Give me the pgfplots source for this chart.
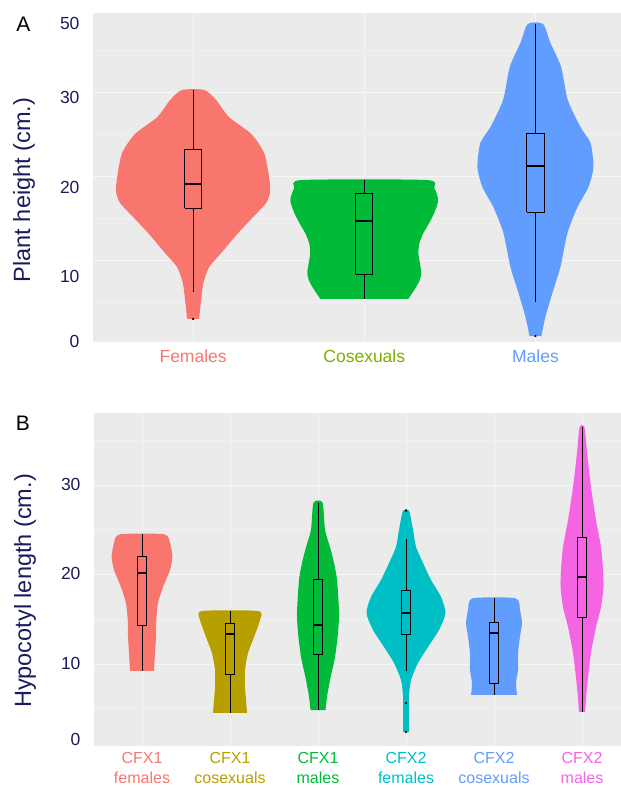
\documentclass[border=0pt]{standalone}
\usepackage{fontspec}
\setmainfont{Liberation Sans}
\usepackage{pgfplots}
\pgfplotsset{compat=1.18}
\definecolor{bg}{HTML}{EBEBEB}
\definecolor{gmaj}{HTML}{F7F7F7}
\definecolor{gmin}{HTML}{F1F1F1}
\definecolor{navy}{HTML}{1B1B5E}
\definecolor{cR}{HTML}{F8766D}
\definecolor{cO}{HTML}{B79F00}
\definecolor{cL}{HTML}{7CAE00}
\definecolor{cG}{HTML}{00BA38}
\definecolor{cC}{HTML}{00BFC4}
\definecolor{cB}{HTML}{619CFF}
\definecolor{cM}{HTML}{F564E3}
\pgfplotsset{
  vio/.style={scale only axis, anchor=south west,
    axis background/.style={fill=bg},
    axis line style={draw=none},
    major tick length=0pt, minor tick length=0pt,
    tick style={draw=none},
    ymajorgrids, yminorgrids, xmajorgrids,
    major grid style={gmaj, line width=0.9pt},
    minor grid style={gmin, line width=0.6pt},
    ytick={10,20,30}, minor ytick={5,15,25,35}, yticklabels={},
    extra y tick style={grid=none},
    /pgf/number format/assume math mode=true,
    yticklabel style={text=navy, font=\fontsize{17.5}{20}\selectfont, xshift=-10pt},
  },
  bline/.style={black, line width=0.75pt},
  bmed/.style={black, line width=1.9pt},
  vfill/.style={fill=#1, draw=none, smooth, tension=0.4},
}
\begin{document}
\begin{tikzpicture}
% ---------------- Panel A ----------------
\begin{axis}[vio, at={(93pt,-342pt)}, width=528pt, height=329pt,
  xmin=0.415, xmax=3.5, ymin=0.238, ymax=39.40,
  xtick={1,2,3},
  xticklabels={\textcolor{cR}{Females},\textcolor{cL}{Cosexuals},\textcolor{cB}{Males}},
  xticklabel style={font=\fontsize{17.5}{20}\selectfont, yshift=-4pt},
  extra y ticks={0.25,8.01,18.61,29.32,38.21},
  extra y tick labels={0,10,20,30,50},
]
\addplot[vfill=cR] table[x expr=1+\thisrow{w}, y=y] {
y w
2.98 0.035
5.24 0.047
7.26 0.060
9.17 0.094
10.83 0.164
13.21 0.263
15.12 0.351
16.79 0.427
18.10 0.450
19.88 0.444
22.74 0.415
25.00 0.340
27.00 0.210
29.05 0.134
30.24 0.065
30.24 -0.065
29.05 -0.134
27.00 -0.210
25.00 -0.340
22.74 -0.415
19.88 -0.444
18.10 -0.450
16.79 -0.427
15.12 -0.351
13.21 -0.263
10.83 -0.164
9.17 -0.094
7.26 -0.060
5.24 -0.047
2.98 -0.035
} -- cycle;
\addplot[vfill=cG] table[x expr=2+\thisrow{w}, y=y] {
y w
5.36 0.257
6.43 0.292
7.50 0.322
8.45 0.333
9.60 0.325
10.83 0.316
12.00 0.322
13.21 0.345
14.00 0.368
15.60 0.409
17.14 0.432
18.57 0.409
19.52 0.363
19.52 -0.363
18.57 -0.409
17.14 -0.432
15.60 -0.409
14.00 -0.368
13.21 -0.345
12.00 -0.322
10.83 -0.316
9.60 -0.325
8.45 -0.333
7.50 -0.322
6.43 -0.292
5.36 -0.257
} -- cycle;
\addplot[vfill=cB] table[x expr=3+\thisrow{w}, y=y] {
y w
0.95 0.035
3.21 0.058
6.07 0.099
9.17 0.146
13.21 0.187
16.31 0.246
18.69 0.310
21.07 0.339
23.93 0.322
25.83 0.263
29.05 0.189
32.98 0.150
35.83 0.088
38.10 0.044
38.10 -0.044
35.83 -0.088
32.98 -0.150
29.05 -0.189
25.83 -0.263
23.93 -0.322
21.07 -0.339
18.69 -0.310
16.31 -0.246
13.21 -0.187
9.17 -0.146
6.07 -0.099
3.21 -0.058
0.95 -0.035
} -- cycle;
% boxes: Females
\addplot[bline] coordinates {(0.95,16.19) (1.05,16.19) (1.05,23.21) (0.95,23.21) (0.95,16.19)};
\addplot[bline] coordinates {(1,23.21) (1,30.24)};
\addplot[bline] coordinates {(1,16.19) (1,6.19)};
\addplot[bmed] coordinates {(0.95,19.05) (1.05,19.05)};
% Cosexuals
\addplot[bline] coordinates {(1.95,8.33) (2.05,8.33) (2.05,17.98) (1.95,17.98) (1.95,8.33)};
\addplot[bline] coordinates {(2,17.98) (2,19.52)};
\addplot[bline] coordinates {(2,8.33) (2,5.36)};
\addplot[bmed] coordinates {(1.95,14.64) (2.05,14.64)};
% Males
\addplot[bline] coordinates {(2.95,15.71) (3.05,15.71) (3.05,25.12) (2.95,25.12) (2.95,15.71)};
\addplot[bline] coordinates {(3,25.12) (3,38.10)};
\addplot[bline] coordinates {(3,15.71) (3,5.00)};
\addplot[bmed] coordinates {(2.95,21.19) (3.05,21.19)};
\addplot[only marks, mark=*, mark size=0.9pt, black] coordinates {(1,2.98) (3,0.95)};
\end{axis}
% ---------------- Panel B ----------------
\begin{axis}[vio, at={(94pt,-746pt)}, width=527pt, height=333pt,
  xmin=0.4545, xmax=6.443, ymin=0.838, ymax=38.04,
  xtick={1,2,3,4,5,6},
  xticklabels={
    {\textcolor{cR}{CFX1}\\\textcolor{cR}{females}},
    {\textcolor{cO}{CFX1}\\\textcolor{cO}{cosexuals}},
    {\textcolor{cG}{CFX1}\\\textcolor{cG}{males}},
    {\textcolor{cC}{CFX2}\\\textcolor{cC}{females}},
    {\textcolor{cB}{CFX2}\\\textcolor{cB}{cosexuals}},
    {\textcolor{cM}{CFX2}\\\textcolor{cM}{males}}},
  xticklabel style={font=\fontsize{16}{19.5}\selectfont, align=center, yshift=-3pt},
  extra y ticks={1.62,10.11,20.06,30.11},
  extra y tick labels={0,10,20,30},
]
\addplot[vfill=cR] table[x expr=1+\thisrow{w}, y=y] {
y w
9.22 0.136
11.23 0.148
13.02 0.159
14.92 0.162
16.82 0.182
18.60 0.239
20.50 0.318
21.96 0.345
23.52 0.318
24.49 0.250
24.49 -0.250
23.52 -0.318
21.96 -0.345
20.50 -0.318
18.60 -0.239
16.82 -0.182
14.92 -0.162
13.02 -0.159
11.23 -0.148
9.22 -0.136
} -- cycle;
\addplot[vfill=cO] table[x expr=2+\thisrow{w}, y=y] {
y w
4.53 0.193
5.98 0.182
7.43 0.170
9.33 0.170
11.23 0.205
13.02 0.273
14.92 0.341
15.92 0.318
15.92 -0.318
14.92 -0.341
13.02 -0.273
11.23 -0.205
9.33 -0.170
7.43 -0.170
5.98 -0.182
4.53 -0.193
} -- cycle;
\addplot[vfill=cG] table[x expr=3+\thisrow{w}, y=y] {
y w
4.86 0.085
6.31 0.102
8.21 0.136
10.78 0.193
13.46 0.227
15.70 0.239
19.39 0.216
21.28 0.182
23.07 0.136
24.97 0.080
28.02 0.051
28.02 -0.051
24.97 -0.080
23.07 -0.136
21.28 -0.182
19.39 -0.216
15.70 -0.239
13.46 -0.227
10.78 -0.193
8.21 -0.136
6.31 -0.102
4.86 -0.085
} -- cycle;
\addplot[vfill=cC] table[x expr=4+\thisrow{w}, y=y] {
y w
2.40 0.034
6.31 0.034
8.21 0.057
10.11 0.136
11.90 0.250
13.80 0.375
15.70 0.449
17.49 0.398
19.39 0.284
21.28 0.193
23.07 0.114
24.97 0.080
27.13 0.034
27.13 -0.034
24.97 -0.080
23.07 -0.114
21.28 -0.193
19.39 -0.284
17.49 -0.398
15.70 -0.449
13.80 -0.375
11.90 -0.250
10.11 -0.136
8.21 -0.057
6.31 -0.034
2.40 -0.034
} -- cycle;
\addplot[vfill=cB] table[x expr=5+\thisrow{w}, y=y] {
y w
6.54 0.261
7.88 0.250
9.33 0.273
11.23 0.273
13.02 0.295
14.58 0.318
16.03 0.295
17.34 0.244
17.34 -0.244
16.03 -0.295
14.58 -0.318
13.02 -0.295
11.23 -0.273
9.33 -0.273
7.88 -0.250
6.54 -0.261
} -- cycle;
\addplot[vfill=cM] table[x expr=6+\thisrow{w}, y=y] {
y w
4.64 0.034
7.43 0.057
11.23 0.102
14.13 0.159
16.37 0.216
18.60 0.244
20.50 0.239
23.07 0.216
26.09 0.159
29.78 0.102
33.58 0.057
36.45 0.028
36.45 -0.028
33.58 -0.057
29.78 -0.102
26.09 -0.159
23.07 -0.216
20.50 -0.239
18.60 -0.244
16.37 -0.216
14.13 -0.159
11.23 -0.102
7.43 -0.057
4.64 -0.034
} -- cycle;
% boxes
\addplot[bline] coordinates {(0.9475,14.36) (1.0525,14.36) (1.0525,22.07) (0.9475,22.07) (0.9475,14.36)};
\addplot[bline] coordinates {(1,22.07) (1,24.49)};
\addplot[bline] coordinates {(1,14.36) (1,9.22)};
\addplot[bmed] coordinates {(0.9475,20.17) (1.0525,20.17)};
\addplot[bline] coordinates {(1.9475,8.88) (2.0525,8.88) (2.0525,14.58) (1.9475,14.58) (1.9475,8.88)};
\addplot[bline] coordinates {(2,14.58) (2,15.92)};
\addplot[bline] coordinates {(2,8.88) (2,4.53)};
\addplot[bmed] coordinates {(1.9475,13.35) (2.0525,13.35)};
\addplot[bline] coordinates {(2.9475,11.12) (3.0525,11.12) (3.0525,19.50) (2.9475,19.50) (2.9475,11.12)};
\addplot[bline] coordinates {(3,19.50) (3,28.02)};
\addplot[bline] coordinates {(3,11.12) (3,4.86)};
\addplot[bmed] coordinates {(2.9475,14.36) (3.0525,14.36)};
\addplot[bline] coordinates {(3.9475,13.35) (4.0525,13.35) (4.0525,18.27) (3.9475,18.27) (3.9475,13.35)};
\addplot[bline] coordinates {(4,18.27) (4,23.97)};
\addplot[bline] coordinates {(4,13.35) (4,9.22)};
\addplot[bmed] coordinates {(3.9475,15.70) (4.0525,15.70)};
\addplot[bline] coordinates {(4.9475,7.88) (5.0525,7.88) (5.0525,14.69) (4.9475,14.69) (4.9475,7.88)};
\addplot[bline] coordinates {(5,14.69) (5,17.34)};
\addplot[bline] coordinates {(5,7.88) (5,6.54)};
\addplot[bmed] coordinates {(4.9475,13.46) (5.0525,13.46)};
\addplot[bline] coordinates {(5.9475,15.25) (6.0525,15.25) (6.0525,24.19) (5.9475,24.19) (5.9475,15.25)};
\addplot[bline] coordinates {(6,24.19) (6,36.45)};
\addplot[bline] coordinates {(6,15.25) (6,4.64)};
\addplot[bmed] coordinates {(5.9475,19.72) (6.0525,19.72)};
\addplot[only marks, mark=*, mark size=0.9pt, black] coordinates {(4,27.13) (4,5.64) (4,2.40)};
\end{axis}
% labels
\node[rotate=90, text=navy, font=\fontsize{23.5}{26}\selectfont] at (24pt,-190pt) {Plant height (cm.)};
\node[rotate=90, text=navy, font=\fontsize{23.5}{26}\selectfont] at (25pt,-591pt) {Hypocotyl length (cm.)};
\node[font=\fontsize{21}{24}\selectfont] at (23.5pt,-24.5pt) {A};
\node[font=\fontsize{21}{24}\selectfont] at (23pt,-423.5pt) {B};
\pgfresetboundingbox
\path[use as bounding box] (0pt,0pt) rectangle (621pt,-788pt);
\end{tikzpicture}
\end{document}
